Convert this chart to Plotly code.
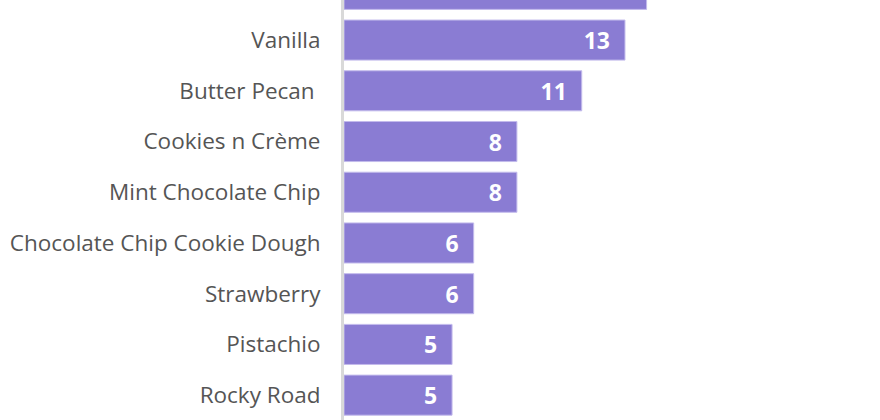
import plotly.graph_objects as go

flavors = [
    "Chocolate",
    "Vanilla",
    "Butter Pecan ",
    "Cookies n Crème",
    "Mint Chocolate Chip",
    "Chocolate Chip Cookie Dough",
    "Strawberry",
    "Pistachio",
    "Rocky Road",
]
votes = [14, 13, 11, 8, 8, 6, 6, 5, 5]

fig = go.Figure(
    go.Bar(
        x=votes,
        y=flavors,
        orientation="h",
        marker=dict(color="#8a7cd3", line=dict(color="#c3bbec", width=1)),
        texttemplate="%{x}&nbsp;&nbsp;",
        textposition="inside",
        insidetextanchor="end",
        textfont=dict(family="Open Sans, sans-serif", size=23, color="white", weight="bold"),
        hoverinfo="skip",
    )
)

fig.update_layout(
    width=880,
    height=420,
    margin=dict(l=344, r=0, t=0, b=0),
    paper_bgcolor="white",
    plot_bgcolor="white",
    bargap=0.21,
    showlegend=False,
    font=dict(family="Open Sans, sans-serif", size=22.5, color="#555555"),
)
fig.update_xaxes(range=[0, 24.8], visible=False, showgrid=False, zeroline=False)
fig.update_yaxes(
    type="category",
    range=[8.49, 0.21],
    showline=True,
    linecolor="#d9d9d9",
    linewidth=3,
    showgrid=False,
    ticks="",
    ticklabelstandoff=16,
)

# drop the page's default 8px body margin so the chart sits at the window corner
fig.write_html(
    "out.html",
    config={"displayModeBar": False},
    post_script="document.body.style.margin='0';",
)
